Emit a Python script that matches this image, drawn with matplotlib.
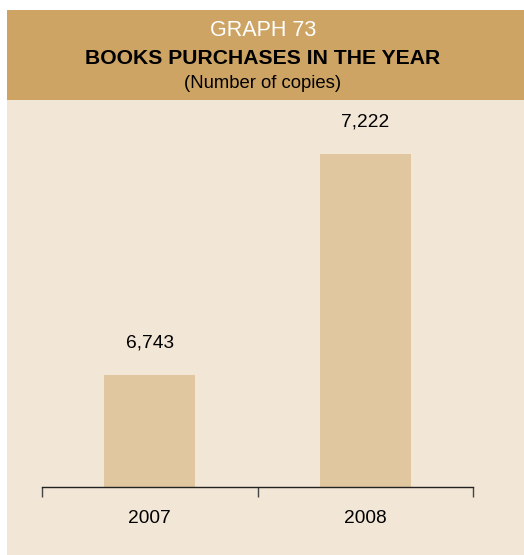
import matplotlib
matplotlib.use("Agg")
import matplotlib.pyplot as plt
from matplotlib.patches import Rectangle

plt.rcParams['font.family'] = ['Liberation Sans', 'DejaVu Sans']

years = ["2007", "2008"]
copies = [6743, 7222]
value_labels = ["6,743", "7,222"]

W, H = 524, 555
fig = plt.figure(figsize=(W / 100, H / 100), dpi=100)
fig.patch.set_facecolor("white")

def fx(px):
    return px / W

def fy(py):
    return 1 - py / H

# page background and header band
fig.add_artist(Rectangle((fx(7), 0), 1 - fx(7), fy(100), transform=fig.transFigure,
                         facecolor="#F2E6D7", edgecolor="none", zorder=0))
fig.add_artist(Rectangle((fx(7), fy(100)), 1 - fx(7), fy(10) - fy(100), transform=fig.transFigure,
                         facecolor="#CDA464", edgecolor="none", zorder=0))

fig.text(fx(263), fy(30), "GRAPH 73", color="white", fontsize=15.5,
         ha="center", va="center")
fig.text(fx(263), fy(58), "BOOKS PURCHASES IN THE YEAR", color="black", fontsize=15.2,
         fontweight="bold", ha="center", va="center")
fig.text(fx(263), fy(84), "(Number of copies)", color="black", fontsize=13.3,
         ha="center", va="center")

ax = fig.add_axes([fx(42), fy(487), fx(473) - fx(42), fy(110) - fy(487)])
ax.set_facecolor("none")
x = list(range(len(years)))
ax.bar(x, copies, width=0.42, color="#E0C79F", bottom=0)
ax.set_xlim(-0.5, len(years) - 0.5)
ymin = 6500
ymax = ymin + (487 - 110) / 0.4614
ax.set_ylim(ymin, ymax)

for s in ["top", "left", "right"]:
    ax.spines[s].set_visible(False)
ax.spines["bottom"].set_color("#222222")
ax.spines["bottom"].set_linewidth(1.0)
ax.set_yticks([])
ax.set_xticks([-0.5, 0.5, 1.5])
ax.set_xticklabels([])
ax.tick_params(axis="x", direction="out", length=7, width=1.0, color="#444444")

for xi, yr in zip(x, years):
    ax.annotate(yr, (xi, ymin), xytext=(0, -23), textcoords="offset points",
                ha="center", va="center", fontsize=13.8, color="black")

for xi, v, lab in zip(x, copies, value_labels):
    ax.annotate(lab, (xi, v), xytext=(0, 23), textcoords="offset points",
                ha="center", va="center", fontsize=13.8, color="black")

fig.savefig("out.png", dpi=100)
